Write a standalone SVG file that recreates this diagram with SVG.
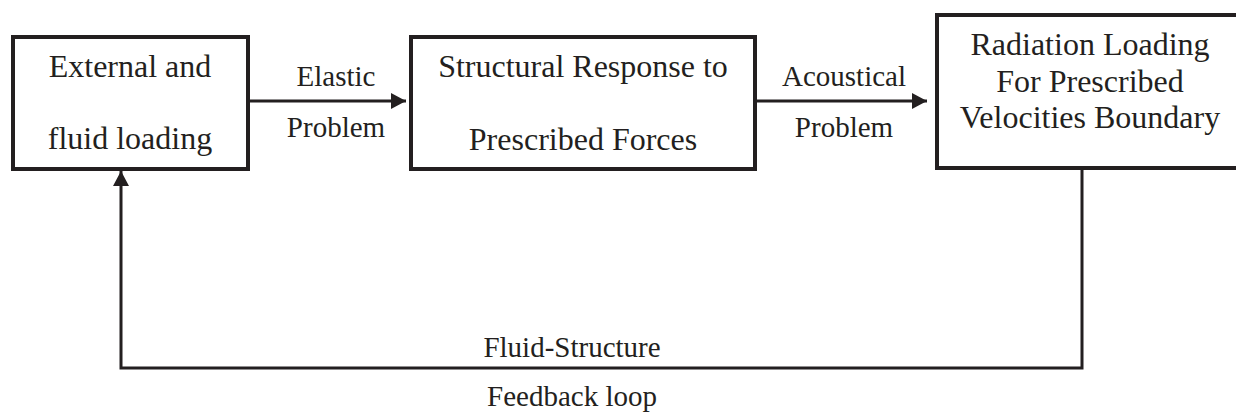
<svg xmlns="http://www.w3.org/2000/svg" width="1236" height="414" viewBox="0 0 1236 414">
<style>
.box{fill:#fff;stroke:#231f20;stroke-width:4}
.t{font-family:"Liberation Serif","Times New Roman",serif;fill:#231f20;text-anchor:middle}
.bt{font-size:32px}
.lt{font-size:29px}
.c{fill:none;stroke:#231f20;stroke-width:3}
</style>
<defs>
<marker id="ah" markerUnits="userSpaceOnUse" markerWidth="16" markerHeight="16" refX="15" refY="8" orient="auto" viewBox="0 0 16 16">
<path d="M0,0 L15,8 L0,16 z" fill="#231f20"/>
</marker>
</defs>
<g id="connectors">
<line class="c" x1="248" y1="101" x2="406" y2="101" marker-end="url(#ah)"/>
<line class="c" x1="755" y1="101" x2="927" y2="101" marker-end="url(#ah)"/>
<path class="c" d="M1082,169 L1082,368 L121,368 L121,171" stroke-linejoin="miter" marker-end="url(#ah)"/>
<text class="t lt" x="336" y="86">Elastic</text>
<text class="t lt" x="336" y="137">Problem</text>
<text class="t lt" x="844" y="86">Acoustical</text>
<text class="t lt" x="844" y="137">Problem</text>
<text class="t lt" x="572" y="357">Fluid-Structure</text>
<text class="t lt" x="572" y="406">Feedback loop</text>
</g>
<g id="node-external">
<rect class="box" x="13" y="37" width="235" height="132"/>
<text class="t bt" x="130" y="77">External and</text>
<text class="t bt" x="130" y="149">fluid loading</text>
</g>
<g id="node-structural">
<rect class="box" x="411" y="37" width="344" height="132"/>
<text class="t bt" x="583" y="77">Structural Response to</text>
<text class="t bt" x="583" y="150">Prescribed Forces</text>
</g>
<g id="node-radiation">
<rect class="box" x="937" y="15" width="304" height="153"/>
<text class="t bt" x="1090" y="55">Radiation Loading</text>
<text class="t bt" x="1090" y="92">For Prescribed</text>
<text class="t bt" x="1090" y="128">Velocities Boundary</text>
</g>
</svg>
